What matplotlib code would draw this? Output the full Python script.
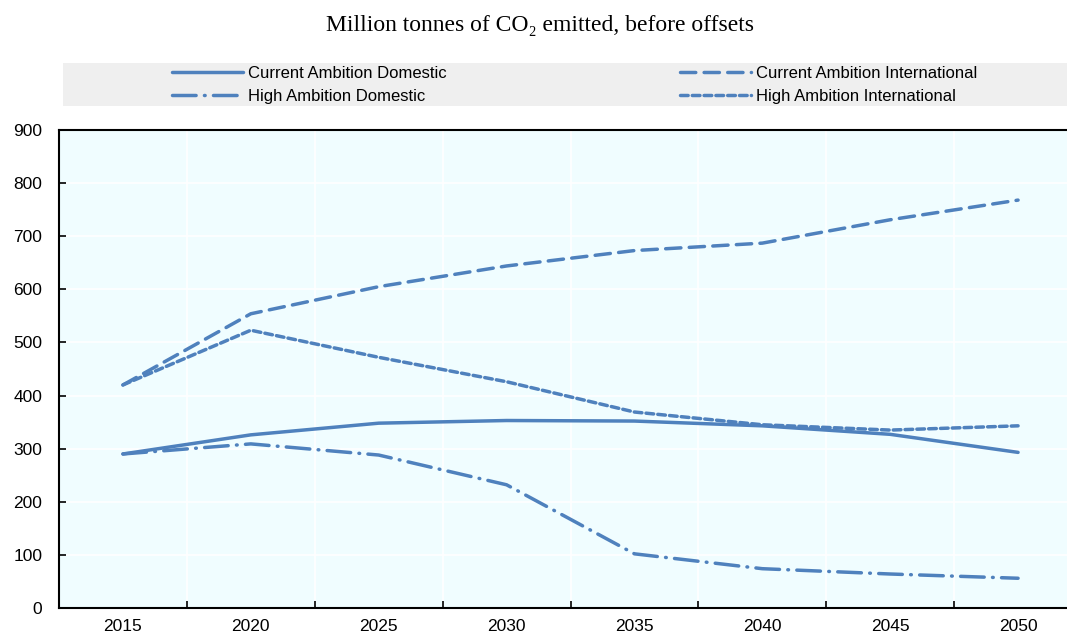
import matplotlib
matplotlib.use('Agg')
import matplotlib.pyplot as plt
from matplotlib.patches import Rectangle
import numpy as np

# datos
anios = ['2015', '2020', '2025', '2030', '2035', '2040', '2045', '2050']
currentDomestic = [290, 326, 348, 353, 352, 343, 327, 293]
currentInternational = [420, 554, 605, 644, 673, 687, 731, 768]
highDomestic = [290, 309, 288, 232, 102, 74, 64, 56]
highInternational = [420, 523, 472, 426, 369, 345, 335, 343]

colorLinea = '#4F81BD'
fondo = '#F0FDFF'
plt.rcParams['lines.scale_dashes'] = False
fuente = ['Liberation Sans Narrow', 'Liberation Sans', 'DejaVu Sans']

fig = plt.figure(figsize=(10.67, 6.34), dpi=100)
ax = fig.add_axes([59/1067, 1-608/634, 1023/1067, 478/634])
ax.set_facecolor(fondo)

x = np.arange(len(anios))
estilos = [
    ('Current Ambition Domestic', currentDomestic, (0, ())),
    ('High Ambition Domestic', highDomestic, (0, (17, 6, 0.5, 6))),
    ('Current Ambition International', currentInternational, (0, (11, 6))),
    ('High Ambition International', highInternational, (0, (5.5, 3))),
]
lineas = []
for nombre, valores, ls in estilos:
    l, = ax.plot(x, valores, color=colorLinea, lw=2.5, linestyle=ls,
                 solid_capstyle='round', dash_capstyle='round', label=nombre)
    lineas.append(l)

ax.set_xlim(-0.5, len(anios) - 0.5)
ax.set_ylim(0, 900)
ax.set_yticks(np.arange(0, 901, 100))
ax.set_xticks(np.arange(0.5, len(anios) - 0.5, 1))
ax.set_xticklabels([])
ax.set_xticks(x, minor=True)
ax.set_xticklabels(anios, minor=True)
ax.tick_params(axis='x', which='major', direction='in', length=5, width=1.2, color='black')
ax.tick_params(axis='x', which='minor', length=0, pad=8)
ax.tick_params(axis='y', direction='in', length=5, width=1.2, pad=12)
for lab in ax.get_xticklabels(minor=True) + ax.get_yticklabels():
    lab.set_family(fuente)
    lab.set_fontsize(12.5)
ax.grid(True, which='major', color='white', lw=1.2)
ax.set_axisbelow(True)
for s in ['left', 'bottom', 'top']:
    ax.spines[s].set_linewidth(1.5)
ax.spines['right'].set_visible(False)

# titulo
fig.text(540/1067, 1-25/634, 'Million tonnes of CO\u2082 emitted, before offsets',
         ha='center', va='center', fontsize=17, family=['Liberation Serif', 'DejaVu Serif'])

# leyenda
fig.patches.append(Rectangle((63/1067, 1-106/634), 1010/1067, 43/634,
                             transform=fig.transFigure, facecolor='#EFEFEF',
                             edgecolor='none', zorder=0))
opcionesLeyenda = dict(loc='center left', frameon=False, handlelength=4.25,
                       handletextpad=0.3, labelspacing=0.5, borderpad=0,
                       borderaxespad=0, prop={'family': fuente, 'size': 12})
leg1 = fig.legend(handles=lineas[:2], bbox_to_anchor=(172/1067, 1-85/634), **opcionesLeyenda)
leg2 = fig.legend(handles=lineas[2:], bbox_to_anchor=(680/1067, 1-85/634), **opcionesLeyenda)

plt.savefig('out.png', dpi=100)
